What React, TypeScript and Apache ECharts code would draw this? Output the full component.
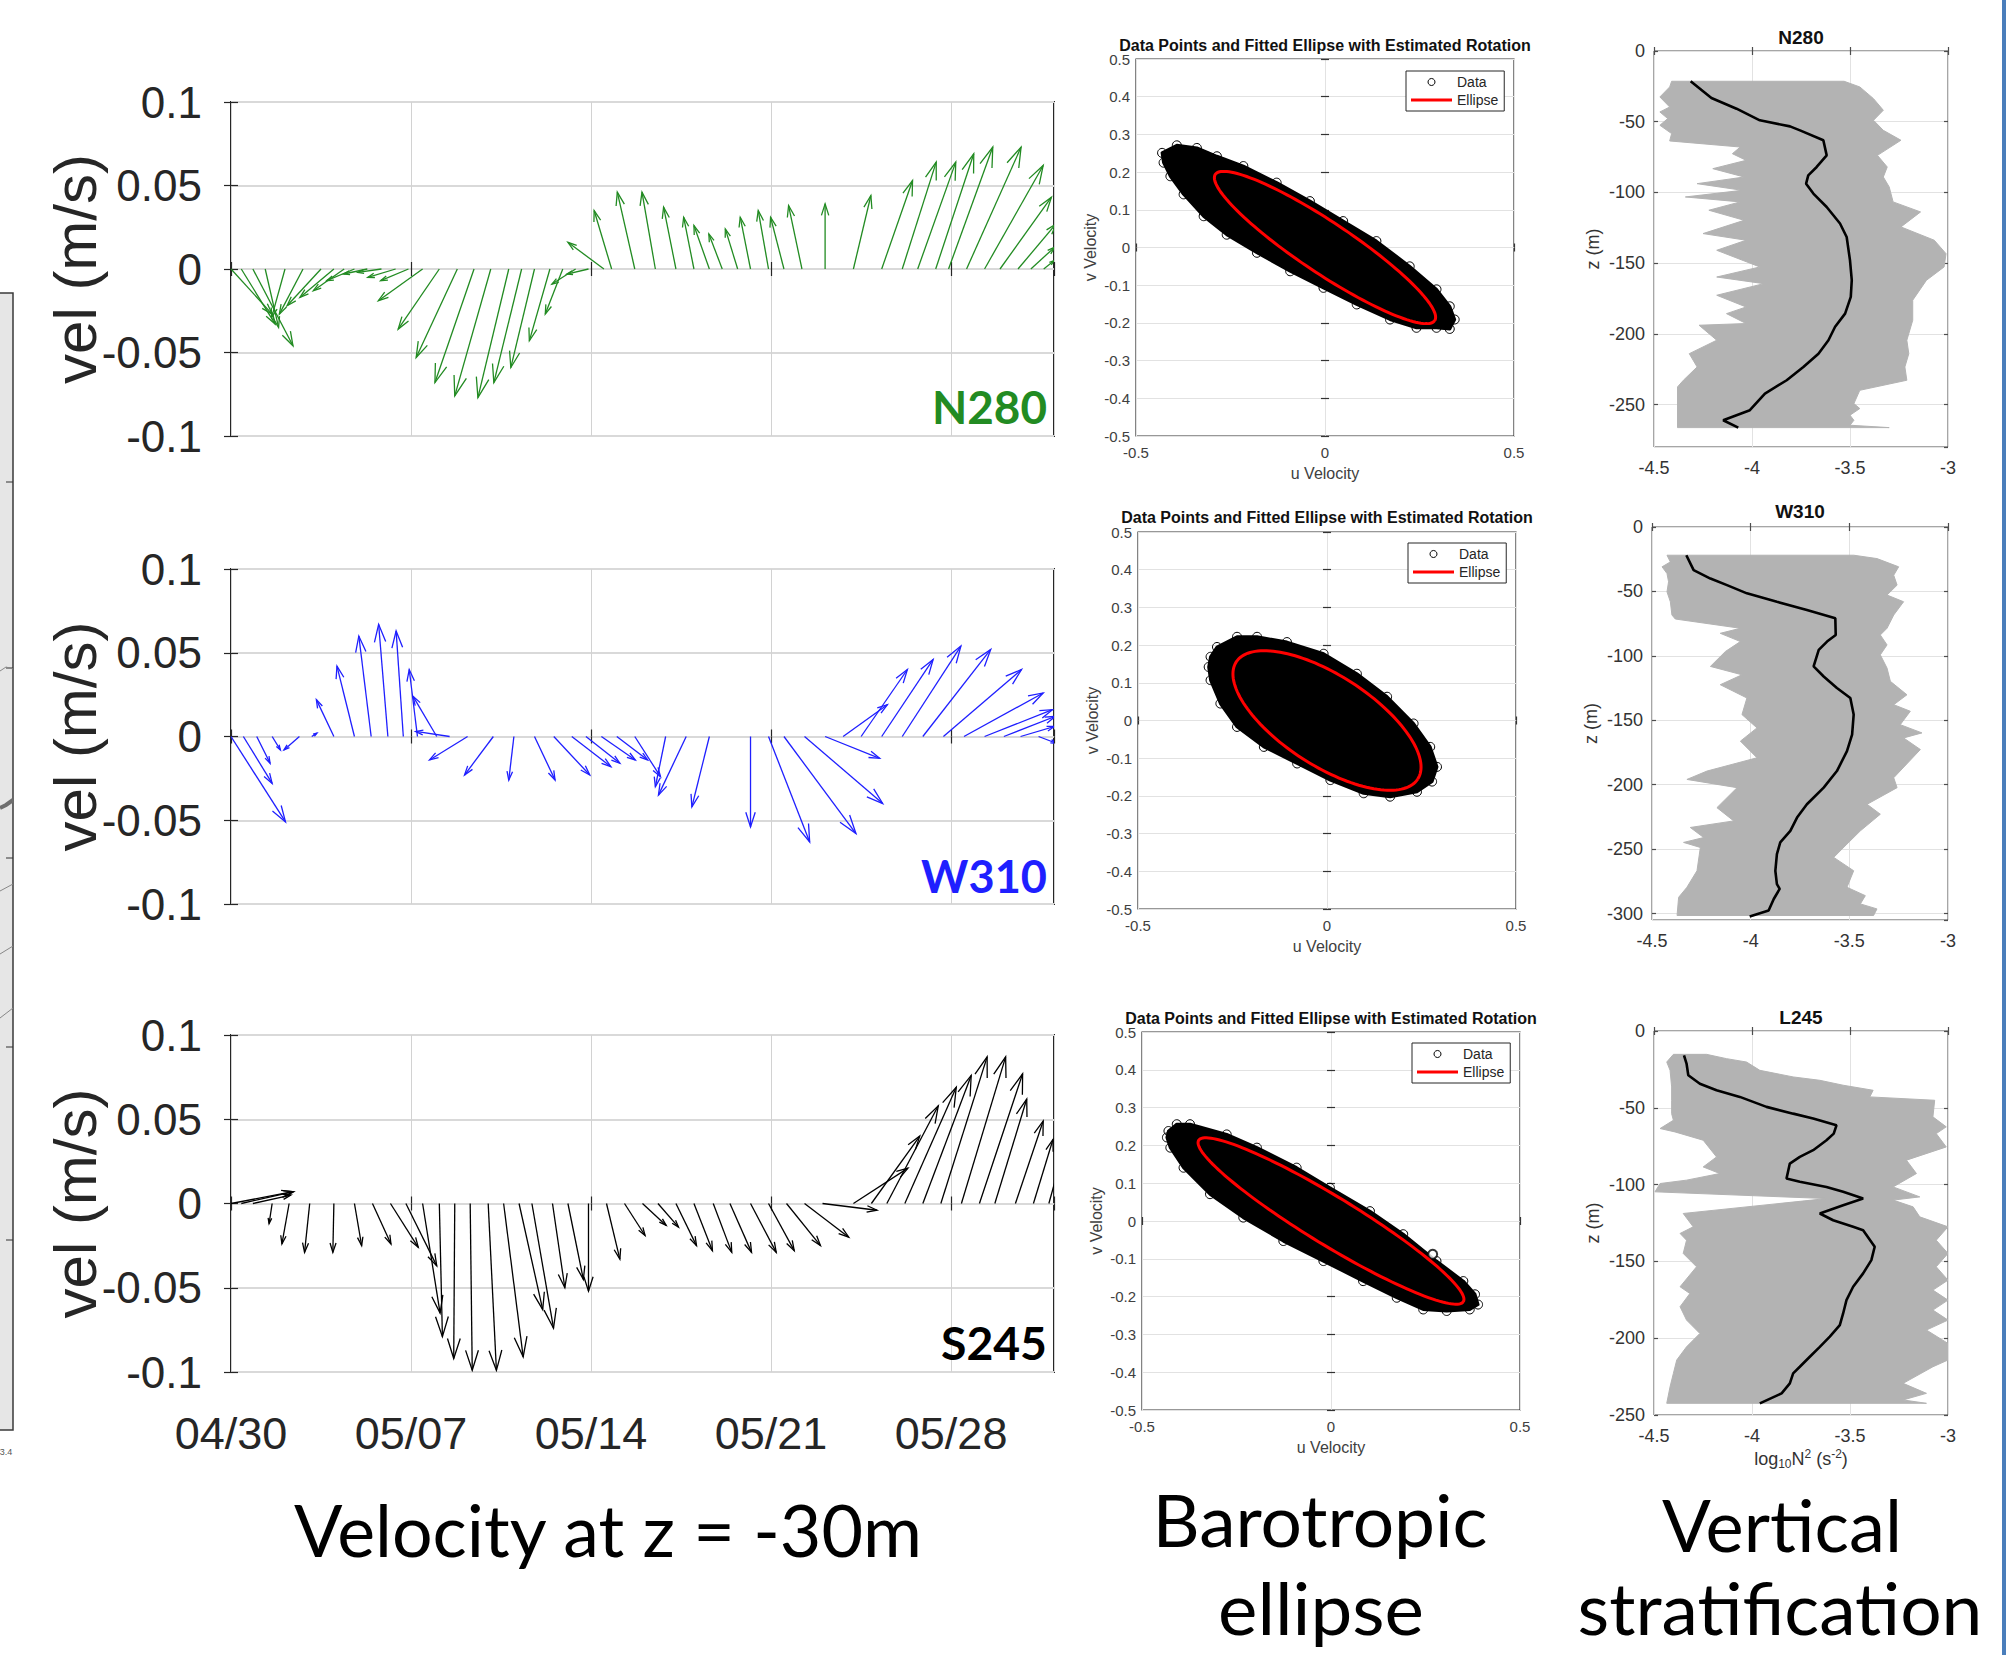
import React, { useEffect, useRef } from 'react';
import * as echarts from 'echarts';

// ---------------- Quiver (stick) data at z = -30 m ----------------
// day = days after 04/30, u / v = velocity components (m/s)
const dateTickLabels = ['04/30', '05/07', '05/14', '05/21', '05/28'];
const quiverStations = ['N280', 'W310', 'S245'];

const n280Day = [0, 0.4, 0.85, 1.33, 2.1, 2.8, 3.5, 4.0, 4.4, 4.8, 5.3, 5.85, 6.4, 6.9, 7.45, 8.1, 8.8, 9.45, 10.1, 10.8, 11.3, 11.8, 12.4, 12.9, 13.4, 13.9, 14.5, 14.8, 15.7, 16.5, 17.3, 18.0, 18.6, 19.1, 19.7, 20.2, 20.9, 21.5, 22.2, 23.1, 24.2, 25.3, 26.1, 26.7, 27.4, 27.9, 28.6, 29.3, 29.9, 30.6, 31.1, 31.6];
const n280U = [0.040, 0.033, 0.039, 0.013, -0.013, -0.023, -0.033, -0.033, -0.030, -0.027, -0.023, -0.023, -0.027, -0.027, -0.043, -0.040, -0.040, -0.038, -0.035, -0.030, -0.027, -0.023, -0.020, -0.017, -0.023, -0.021, -0.035, -0.017, -0.017, -0.013, -0.012, -0.010, -0.015, -0.013, -0.012, -0.010, -0.010, -0.013, -0.013, 0.0, 0.017, 0.030, 0.033, 0.037, 0.037, 0.043, 0.053, 0.057, 0.050, 0.037, 0.023, 0.010];
const n280V = [-0.027, -0.033, -0.046, -0.035, -0.029, -0.027, -0.022, -0.017, -0.013, -0.007, -0.003, -0.002, -0.005, -0.007, -0.019, -0.036, -0.053, -0.068, -0.076, -0.077, -0.068, -0.059, -0.043, -0.027, -0.009, -0.003, 0.016, 0.035, 0.046, 0.046, 0.037, 0.031, 0.026, 0.021, 0.024, 0.031, 0.035, 0.031, 0.038, 0.039, 0.044, 0.053, 0.064, 0.064, 0.069, 0.073, 0.073, 0.062, 0.043, 0.027, 0.013, 0.005];

const w310Day = [0, 0.48, 1.0, 1.6, 2.66, 3.14, 4.0, 4.8, 5.45, 6.1, 6.7, 7.25, 8.0, 8.5, 9.2, 10.2, 11.0, 11.8, 12.55, 13.25, 13.8, 14.4, 15.0, 15.7, 16.9, 17.7, 18.6, 20.2, 20.9, 21.5, 22.3, 23.1, 23.8, 24.5, 25.3, 26.1, 26.9, 27.7, 28.5, 29.3, 30.05, 30.7, 31.4];
const w310U = [0.053, 0.028, 0.013, 0.008, -0.015, 0.005, -0.017, -0.017, -0.012, -0.009, -0.007, -0.008, -0.023, -0.033, -0.037, -0.028, -0.005, 0.020, 0.035, 0.038, 0.033, 0.033, 0.030, 0.025, -0.010, -0.027, -0.017, 0.0, 0.040, 0.070, 0.076, 0.053, 0.043, 0.045, 0.050, 0.057, 0.066, 0.076, 0.077, 0.066, 0.050, 0.033, 0.017];
const w310V = [-0.051, -0.028, -0.016, -0.008, -0.008, 0.002, 0.022, 0.042, 0.060, 0.067, 0.063, 0.040, 0.024, 0.003, -0.014, -0.023, -0.026, -0.026, -0.023, -0.018, -0.016, -0.014, -0.014, -0.024, -0.030, -0.035, -0.042, -0.054, -0.063, -0.058, -0.040, -0.013, 0.019, 0.040, 0.046, 0.054, 0.052, 0.040, 0.026, 0.016, 0.012, 0.006, -0.004];

const s245Day = [0, 0.4, 0.85, 1.6, 2.26, 3.06, 4.0, 4.8, 5.5, 6.2, 6.8, 7.45, 8.1, 8.7, 9.3, 10.0, 10.6, 11.2, 11.7, 12.5, 13.1, 13.9, 14.6, 15.3, 16.0, 16.6, 17.3, 18.0, 18.75, 19.4, 20.2, 20.9, 21.6, 22.3, 23.0, 24.2, 24.9, 25.5, 26.2, 26.9, 27.6, 28.4, 29.1, 29.7, 30.5, 31.2, 31.8];
const s245U = [0.060, 0.051, 0.037, -0.003, -0.007, -0.005, -0.001, 0.007, 0.018, 0.027, 0.030, 0.017, 0.003, -0.001, 0.002, 0.008, 0.019, 0.023, 0.021, 0.012, 0.015, 0.0, 0.013, 0.020, 0.023, 0.020, 0.020, 0.018, 0.018, 0.021, 0.025, 0.025, 0.033, 0.043, 0.053, 0.053, 0.047, 0.050, 0.050, 0.047, 0.045, 0.043, 0.042, 0.031, 0.027, 0.019, 0.010];
const s245V = [0.007, 0.007, 0.005, -0.012, -0.024, -0.029, -0.029, -0.025, -0.024, -0.026, -0.037, -0.065, -0.079, -0.092, -0.099, -0.099, -0.091, -0.063, -0.074, -0.050, -0.045, -0.052, -0.033, -0.019, -0.013, -0.014, -0.025, -0.028, -0.029, -0.029, -0.029, -0.028, -0.025, -0.020, -0.004, 0.021, 0.040, 0.058, 0.069, 0.076, 0.087, 0.087, 0.077, 0.062, 0.049, 0.038, 0.022];

// ---------------- Barotropic ellipse data ----------------
// outline of the dense cloud of (u, v) data points
const n280CloudU = [-0.431, -0.392, -0.339, -0.286, -0.216, -0.128, -0.040, 0.048, 0.136, 0.224, 0.295, 0.330, 0.343, 0.330, 0.295, 0.242, 0.172, 0.084, -0.004, -0.092, -0.180, -0.260, -0.321, -0.374, -0.409, -0.427];
const n280CloudV = [0.251, 0.271, 0.264, 0.242, 0.216, 0.172, 0.123, 0.070, 0.017, -0.050, -0.111, -0.156, -0.191, -0.216, -0.213, -0.213, -0.191, -0.151, -0.107, -0.063, -0.014, 0.034, 0.083, 0.141, 0.189, 0.225];
const w310CloudU = [-0.308, -0.291, -0.238, -0.185, -0.106, -0.009, 0.079, 0.159, 0.229, 0.273, 0.291, 0.278, 0.238, 0.167, 0.097, 0.009, -0.079, -0.167, -0.238, -0.282, -0.308, -0.313];
const w310CloudV = [0.169, 0.195, 0.222, 0.222, 0.208, 0.177, 0.124, 0.063, -0.008, -0.070, -0.123, -0.162, -0.189, -0.202, -0.193, -0.158, -0.114, -0.070, -0.017, 0.045, 0.107, 0.142];
const s245CloudU = [-0.430, -0.408, -0.373, -0.276, -0.196, -0.091, -0.003, 0.103, 0.191, 0.279, 0.350, 0.381, 0.389, 0.367, 0.306, 0.244, 0.174, 0.085, -0.020, -0.126, -0.232, -0.320, -0.390, -0.425, -0.434];
const s245CloudV = [0.238, 0.256, 0.256, 0.229, 0.194, 0.141, 0.088, 0.026, -0.035, -0.106, -0.159, -0.194, -0.221, -0.234, -0.238, -0.234, -0.203, -0.159, -0.106, -0.053, 0.009, 0.071, 0.141, 0.194, 0.221];
const s245OutlierU = [0.269];
const s245OutlierV = [-0.088];
// fitted ellipses: [centre u, centre v, semi-major, semi-minor, rotation (deg)]
const n280Ellipse = [0, 0, 0.349, 0.068, -33.75];
const w310Ellipse = [0, 0, 0.286, 0.120, -32.9];
const s245Ellipse = [0, 0, 0.410, 0.064, -31.35];

// ---------------- Vertical stratification ----------------
const stratStations = ['N280', 'W310', 'L245'];
const n280MeanN2 = [-4.313, -4.207, -4.079, -3.96, -3.806, -3.755, -3.636, -3.619, -3.670, -3.713, -3.724, -3.687, -3.619, -3.551, -3.517, -3.50, -3.491, -3.496, -3.525, -3.576, -3.61, -3.661, -3.738, -3.823, -3.934, -4.011, -4.147, -4.07];
const n280MeanZ = [-21.4, -33.2, -40.8, -49, -53.3, -56.1, -63.1, -73.8, -82, -87.9, -93.8, -100.8, -110.3, -122, -131.5, -148, -162, -173.9, -185.7, -195, -204.5, -214, -223.4, -232.8, -242.2, -254, -261.1, -266.3];
const n280EnvN2 = [-4.41, -4.42, -4.47, -4.42, -4.47, -4.43, -4.47, -4.41, -4.42, -4.06, -4.10, -4.03, -4.20, -4.04, -4.28, -4.05, -4.34, -4.06, -4.22, -4.04, -4.25, -4.03, -4.18, -3.96, -4.18, -3.94, -4.18, -4.03, -4.13, -4.03, -4.27, -4.18, -4.32, -4.28, -4.35, -4.38, -4.38,
  -3.30, -3.50, -3.48, -3.50, -3.45, -3.48, -3.45, -3.21, -3.22, -3.20, -3.21, -3.18, -3.18, -3.11, -3.02, -3.01, -3.07, -3.24, -3.14, -3.28, -3.30, -3.33, -3.31, -3.36, -3.24, -3.33, -3.38, -3.33, -3.38, -3.45, -3.53];
const n280EnvZ = [-21.4, -25.4, -32.5, -39.6, -43.1, -47.8, -52.5, -58.4, -63.6, -67.9, -72.6, -77.3, -83.2, -89.1, -93.8, -98.5, -103.2, -106.7, -112.6, -119.7, -129.1, -133.8, -140.9, -152.7, -159.8, -164.5, -172.7, -181, -185.7, -192.7, -193.9, -204.5, -214, -223.4, -232.8, -237.5, -266.3,
  -266.3, -264.6, -261.1, -257.5, -252.8, -249.3, -239.9, -232.8, -223.4, -214, -204.5, -190.4, -176.2, -162.1, -152.7, -143.3, -133.8, -124.4, -113.8, -106.7, -96.1, -89.1, -82, -73.8, -63.1, -56.1, -49, -41.9, -33.7, -25.4, -21.4];

const w310MeanN2 = [-4.326, -4.289, -4.204, -4.12, -4.019, -3.867, -3.715, -3.571, -3.569, -3.613, -3.655, -3.681, -3.63, -3.563, -3.495, -3.478, -3.486, -3.512, -3.563, -3.63, -3.715, -3.765, -3.799, -3.85, -3.867, -3.875, -3.867, -3.853, -3.883, -3.909, -4.005];
const w310MeanZ = [-21.9, -33.5, -40, -45.1, -51.5, -58, -64.4, -70.9, -83.8, -88.9, -95.4, -108.2, -116, -125, -132.7, -145.6, -161.1, -174, -189.4, -202.3, -215.2, -225.5, -235.8, -244.8, -253.9, -266.8, -277.1, -280.9, -288.7, -297.7, -302.3];
const w310EnvN2 = [-4.424, -4.407, -4.449, -4.424, -4.416, -4.424, -4.407, -4.399, -4.382, -4.052, -4.154, -4.052, -4.128, -4.204, -4.044, -4.154, -4.019, -4.044, -3.968, -4.052, -3.968, -4.221, -4.323, -4.069, -4.171, -4.086, -4.306, -4.238, -4.34, -4.255, -4.272, -4.323, -4.365, -4.373,
  -3.377, -3.36, -3.444, -3.419, -3.512, -3.478, -3.579, -3.512, -3.444, -3.343, -3.41, -3.258, -3.275, -3.14, -3.225, -3.132, -3.242, -3.191, -3.275, -3.208, -3.292, -3.309, -3.343, -3.309, -3.343, -3.309, -3.275, -3.225, -3.309, -3.258, -3.275, -3.25, -3.36, -3.478];
const w310EnvZ = [-21.9, -27.1, -30.9, -36.1, -42.5, -50.3, -58, -68.3, -71.4, -78.6, -82.5, -88.9, -96.6, -108.2, -114.7, -122.4, -132.7, -145.6, -155.9, -166.2, -179.1, -189.4, -195.9, -202.3, -217.8, -228.1, -233.2, -241, -244.8, -248.7, -266.8, -279.6, -287.4, -301.5,
  -301.5, -296.4, -292.5, -286.1, -279.6, -266.8, -256.4, -246.1, -235.8, -222.9, -215.2, -202.3, -194.6, -172.7, -163.7, -159.8, -153.4, -143, -137.9, -130.2, -119.8, -109.5, -99.2, -91.5, -83.8, -78.6, -68.3, -58, -52.8, -45.1, -37.4, -30.9, -24.5, -21.9];

const l245MeanN2 = [-4.347, -4.334, -4.325, -4.266, -4.181, -4.062, -3.926, -3.79, -3.688, -3.569, -3.583, -3.62, -3.688, -3.756, -3.807, -3.824, -3.756, -3.62, -3.535, -3.433, -3.535, -3.654, -3.586, -3.484, -3.433, -3.374, -3.391, -3.433, -3.484, -3.518, -3.535, -3.552, -3.603, -3.654, -3.705, -3.756, -3.79, -3.807, -3.849, -3.96];
const l245MeanZ = [-15.8, -21.2, -28.8, -34.3, -38.6, -42.9, -49.4, -53.8, -57, -61.4, -66.8, -71.1, -77.6, -82, -86.3, -96.1, -98.2, -101.5, -104.7, -109.1, -113.4, -118.8, -123.2, -127.5, -129.7, -140.5, -149.2, -157.8, -166.5, -175.2, -183.9, -191.5, -199, -205.6, -212.1, -218.6, -222.9, -229.4, -235.9, -242.4];
const l245EnvN2 = [-4.401, -4.435, -4.418, -4.41, -4.41, -4.41, -4.401, -4.469, -4.393, -4.249, -4.181, -4.249, -4.164, -4.334, -4.469, -4.495, -3.62, -4.351, -4.3, -4.367, -4.334, -4.351, -4.283, -4.367, -4.317, -4.367, -4.334, -4.266, -4.334, -4.384, -4.401, -4.418, -4.435,
  -3.11, -3.229, -3.11, -3.229, -3.077, -3.0, -3.0, -3.11, -3.0, -3.077, -3.0, -3.077, -3.0, -3.06, -3.0, -3.06, -3.0, -3.144, -3.178, -3.28, -3.144, -3.28, -3.161, -3.212, -3.009, -3.06, -3.009, -3.077, -3.068, -3.399, -3.382, -3.535, -3.654, -3.79, -3.96, -4.028, -4.13, -4.232];
const l245EnvZ = [-15.2, -20.2, -25.6, -36.4, -45.1, -53.8, -58.1, -63.5, -65.7, -71.1, -82, -88.5, -92.8, -97.1, -99.3, -104.7, -109.1, -118.8, -127.5, -131.8, -136.2, -144.8, -153.5, -166.5, -170.9, -179.5, -188.2, -196.9, -205.6, -214.2, -222.9, -231.6, -242.4,
  -242.4, -240.2, -235.9, -229.4, -218.6, -214.2, -203.4, -194.7, -188.2, -181.7, -175.2, -168.7, -162.2, -153.5, -144.8, -136.2, -127.5, -121, -114.5, -110.1, -108, -101.5, -92.8, -84.1, -75.5, -66.8, -62.4, -55.9, -45.1, -42.9, -38.6, -35.3, -32.1, -29.9, -25.6, -20.2, -18, -15.2];

// ---------------- presentation constants ----------------
const U_TO_DAYS = 40; // horizontal stick scale: days per (m/s)
const FONT = "'Liberation Sans', Arial, Helvetica, sans-serif";
const CAL = "Lato, 'Open Sans', sans-serif";
const quiverColors = ['#228b22', '#1f1fff', '#000000'];

const zip2 = (a: number[], b: number[]) => a.map((v, i) => [v, b[i]]);
const zip3 = (a: number[], b: number[], c: number[]) => a.map((v, i) => [v, b[i], c[i]]);

function quiverItem(color: string) {
  return (params: any, api: any) => {
    const t = api.value(0), u = api.value(1), v = api.value(2);
    const p0 = api.coord([t, 0]);
    const p1 = api.coord([t + U_TO_DAYS * u, v]);
    const dx = p1[0] - p0[0], dy = p1[1] - p0[1];
    const len = Math.sqrt(dx * dx + dy * dy);
    const style = { stroke: color, lineWidth: 1.3, fill: 'none' };
    const children: any[] = [{ type: 'line', shape: { x1: p0[0], y1: p0[1], x2: p1[0], y2: p1[1] }, style }];
    if (len > 2) {
      const h = Math.min(0.13 * len + 3, 20);
      const w = h * 0.32;
      const ex = dx / len, ey = dy / len;
      const bx = p1[0] - ex * h, by = p1[1] - ey * h;
      children.push({ type: 'polyline', shape: { points: [[bx - ey * w, by + ex * w], [p1[0], p1[1]], [bx + ey * w, by - ex * w]] }, style });
    }
    return { type: 'group', children };
  };
}

function polygonItem(xs: number[], ys: number[], fill: string, stroke: string, lw: number, rings: boolean) {
  return (_p: any, api: any) => {
    const pts = xs.map((x, i) => api.coord([x, ys[i]]));
    const children: any[] = [{ type: 'polygon', shape: { points: pts }, style: { fill, stroke, lineWidth: lw, lineJoin: 'round' } }];
    if (rings) {
      pts.forEach((q: number[]) => children.push({ type: 'circle', shape: { cx: q[0], cy: q[1], r: 4.5 }, style: { fill: 'none', stroke: '#000', lineWidth: 1 } }));
    }
    return { type: 'group', children };
  };
}

function ellipseItem(par: number[]) {
  return (_p: any, api: any) => {
    const [cu, cv, a, b, deg] = par;
    const r = (deg * Math.PI) / 180;
    const pts: number[][] = [];
    for (let k = 0; k <= 144; k++) {
      const th = (2 * Math.PI * k) / 144;
      const x = a * Math.cos(th), y = b * Math.sin(th);
      pts.push(api.coord([cu + x * Math.cos(r) - y * Math.sin(r), cv + x * Math.sin(r) + y * Math.cos(r)]));
    }
    return { type: 'polyline', shape: { points: pts }, style: { stroke: '#ff0000', lineWidth: 3, fill: 'none' } };
  };
}

function measure(text: string, font: string) {
  const c = document.createElement('canvas').getContext('2d') as CanvasRenderingContext2D;
  c.font = font;
  return c.measureText(text).width || 1;
}

function fittedText(text: string, x: number, cy: number, targetW: number, size: number, weight: string, color: string, align: string) {
  const w = measure(text, `${weight} ${size}px Lato`);
  return {
    type: 'text', x, y: cy, scaleX: targetW / w, silent: true, z: 50,
    style: { text, fontFamily: CAL, fontSize: size, fontWeight: weight, fill: color, align, textAlign: align, verticalAlign: 'middle', textVerticalAlign: 'middle' },
  };
}

function buildOption() {
  const grid: any[] = [];
  const xAxis: any[] = [];
  const yAxis: any[] = [];
  const series: any[] = [];
  const title: any[] = [];
  const legend: any[] = [];

  const addGrid = (r: any, color: string, width: number) => {
    grid.push({ left: r[0], top: r[1], width: r[2], height: r[3], show: true, borderColor: color, borderWidth: width, backgroundColor: 'transparent', outerBoundsMode: 'none' });
    return grid.length - 1;
  };
  const addAxes = (g: number, xa: any, ya: any, tickColor: string, tickLen: number) => {
    const tick = { show: true, inside: true, length: tickLen, lineStyle: { color: tickColor, width: 1.2 } };
    xAxis.push({ type: 'value', gridIndex: g, position: 'bottom', nameMoveOverlap: false, axisLine: { show: false }, axisTick: tick, ...xa });
    xAxis.push({ type: 'value', gridIndex: g, position: 'top', min: xa.min, max: xa.max, interval: xa.interval, axisLine: { show: false }, axisTick: tick, axisLabel: { show: false }, splitLine: { show: false } });
    yAxis.push({ type: 'value', gridIndex: g, position: 'left', nameMoveOverlap: false, axisLine: { show: false }, axisTick: tick, ...ya });
    yAxis.push({ type: 'value', gridIndex: g, position: 'right', min: ya.min, max: ya.max, interval: ya.interval, minInterval: ya.minInterval, maxInterval: ya.maxInterval, axisLine: { show: false }, axisTick: tick, axisLabel: { show: false }, splitLine: { show: false } });
    return 2 * g;
  };

  // ---- quiver panels ----
  const qRects = [[231, 102, 823, 334], [231, 569, 823, 335], [231, 1035, 823, 337]];
  const qData = [zip3(n280Day, n280U, n280V), zip3(w310Day, w310U, w310V), zip3(s245Day, s245U, s245V)];
  qRects.forEach((r, i) => {
    const g = addGrid(r, '#262626', 2);
    const ai = addAxes(g, {
      min: 0, max: 32, interval: 7,
      axisLabel: {
        show: i === 2, margin: 39, fontFamily: FONT, fontSize: 45, color: '#262626',
        formatter: (v: number) => { const k = Math.round(v / 7); return Math.abs(v - 7 * k) < 1e-6 ? (dateTickLabels[k] ?? '') : ''; },
      },
      splitLine: { show: true, lineStyle: { color: '#d2d2d2', width: 1 } },
    }, {
      min: -0.1, max: 0.1, interval: 0.05,
      axisLabel: { margin: 29, fontFamily: FONT, fontSize: 44, color: '#262626' },
      splitLine: { show: true, lineStyle: { color: '#d9d9d9', width: 2 } },
      name: 'vel (m/s)', nameLocation: 'middle', nameRotate: 90, nameGap: 126,
      nameTextStyle: { fontFamily: FONT, fontSize: 60, color: '#262626' },
    }, '#262626', 7);
    series.push({
      name: quiverStations[i] + ' velocity', type: 'custom', xAxisIndex: ai, yAxisIndex: ai, clip: true, silent: true, z: 3,
      encode: { x: 0, y: 2 }, data: qData[i], renderItem: quiverItem(quiverColors[i]),
    });
  });

  // ---- ellipse panels ----
  const eRects = [[1136, 59, 378, 377], [1138, 532, 378, 377], [1142, 1032, 378, 378]];
  const clouds = [[n280CloudU, n280CloudV], [w310CloudU, w310CloudV], [s245CloudU, s245CloudV]];
  const ells = [n280Ellipse, w310Ellipse, s245Ellipse];
  const eTitleTop = [37, 509, 1010];
  const legendPos = [[1406, 71], [1408, 543], [1412, 1043]];
  eRects.forEach((r, i) => {
    const g = addGrid(r, '#333333', 1.2);
    const ai = addAxes(g, {
      min: -0.5, max: 0.5, interval: 0.5,
      axisLabel: { margin: 9, fontFamily: FONT, fontSize: 15, color: '#404040' },
      splitLine: { show: true, lineStyle: { color: '#e2e2e2', width: 1 } },
      name: 'u Velocity', nameLocation: 'middle', nameGap: 29,
      nameTextStyle: { fontFamily: FONT, fontSize: 16, color: '#404040' },
    }, {
      min: -0.5, max: 0.5, interval: 0.1,
      axisLabel: { margin: 6, fontFamily: FONT, fontSize: 15, color: '#404040' },
      splitLine: { show: true, lineStyle: { color: '#e2e2e2', width: 1 } },
      name: 'v Velocity', nameLocation: 'middle', nameRotate: 90, nameGap: 38,
      nameTextStyle: { fontFamily: FONT, fontSize: 16, color: '#404040' },
    }, '#333333', 4);
    const [cu, cv] = clouds[i];
    series.push({
      name: 'Data', type: 'custom', xAxisIndex: ai, yAxisIndex: ai, silent: true, z: 2, clip: true,
      itemStyle: { color: '#000' }, data: [[cu[0], cv[0]]], renderItem: polygonItem(cu, cv, '#000', '#000', 3, true),
    });
    if (i === 2) {
      series.push({
        name: 'Data', type: 'scatter', xAxisIndex: ai, yAxisIndex: ai, silent: true, z: 2,
        symbol: 'emptyCircle', symbolSize: 9, itemStyle: { color: '#000', borderColor: '#000', borderWidth: 1 },
        data: zip2(s245OutlierU, s245OutlierV),
      });
    }
    series.push({
      name: 'Ellipse', type: 'custom', xAxisIndex: ai, yAxisIndex: ai, silent: true, z: 4, clip: true,
      itemStyle: { color: '#ff0000' }, data: [[ells[i][0], ells[i][1]]], renderItem: ellipseItem(ells[i]),
    });
    title.push({
      text: 'Data Points and Fitted Ellipse with Estimated Rotation', left: r[0] + r[2] / 2, top: eTitleTop[i], textAlign: 'center', padding: 0,
      textStyle: { fontFamily: FONT, fontSize: 16, fontWeight: 'bold', color: '#111' },
    });
    legend.push({
      show: true, orient: 'vertical', left: legendPos[i][0], top: legendPos[i][1], selectedMode: false,
      itemWidth: 41, itemHeight: 7, itemGap: 4, padding: [4, 6, 4, 5],
      borderColor: '#262626', borderWidth: 1, backgroundColor: '#ffffff', borderRadius: 0,
      textStyle: { fontFamily: FONT, fontSize: 14, color: '#262626' },
      data: [
        { name: 'Data', icon: 'circle', itemStyle: { color: '#ffffff', borderColor: '#000000', borderWidth: 1 } },
        { name: 'Ellipse', icon: 'path://M0,0L41,0L41,3L0,3Z', itemStyle: { color: '#ff0000', borderWidth: 0 } },
      ],
    });
  });

  // ---- stratification panels ----
  const sRects = [[1654, 51, 294, 396], [1652, 527, 296, 393], [1654, 1031, 294, 384]];
  const sMin = [-280, -305, -250];
  const envs = [[n280EnvN2, n280EnvZ], [w310EnvN2, w310EnvZ], [l245EnvN2, l245EnvZ]];
  const means = [[n280MeanN2, n280MeanZ], [w310MeanN2, w310MeanZ], [l245MeanN2, l245MeanZ]];
  const sTitleTop = [28, 502, 1008];
  sRects.forEach((r, i) => {
    const g = addGrid(r, '#4d4d4d', 1);
    const xa: any = {
      min: -4.5, max: -3, interval: 0.5,
      axisLabel: { margin: 12, fontFamily: FONT, fontSize: 18, color: '#333333' },
      splitLine: { show: true, lineStyle: { color: '#e2e2e2', width: 1 } },
    };
    if (i === 2) {
      xa.name = '{n|log}{s|10}{n|N}{p|2}{n| (s}{p|-2}{n|)}';
      xa.nameLocation = 'middle';
      xa.nameGap = 33;
      xa.nameTextStyle = {
        fontFamily: FONT, fontSize: 18, color: '#333333',
        rich: {
          n: { fontFamily: FONT, fontSize: 18, color: '#333333' },
          s: { fontFamily: FONT, fontSize: 12, color: '#333333', padding: [10, 0, 0, 0] },
          p: { fontFamily: FONT, fontSize: 12, color: '#333333', padding: [0, 0, 10, 0] },
        },
      };
    }
    const ai = addAxes(g, xa, {
      min: sMin[i], max: 0, minInterval: 50, maxInterval: 50,
      axisLabel: { margin: 9, fontFamily: FONT, fontSize: 18, color: '#333333', showMinLabel: i === 2 },
      splitLine: { show: true, lineStyle: { color: '#e2e2e2', width: 1 } },
      name: 'z (m)', nameLocation: 'middle', nameRotate: 90, nameGap: 52,
      nameTextStyle: { fontFamily: FONT, fontSize: 18, color: '#333333' },
    }, '#4d4d4d', 4);
    const [ex, ez] = envs[i];
    series.push({
      name: stratStations[i] + ' profiles', type: 'custom', xAxisIndex: ai, yAxisIndex: ai, silent: true, z: 2, clip: true,
      data: [[ex[0], ez[0]]], renderItem: polygonItem(ex, ez, '#b3b3b3', '#b3b3b3', 1, false),
    });
    const [mx, mz] = means[i];
    series.push({
      name: stratStations[i] + ' mean', type: 'line', xAxisIndex: ai, yAxisIndex: ai, silent: true, z: 4,
      symbol: 'none', lineStyle: { color: '#000', width: 2.6 }, data: zip2(mx, mz),
    });
    title.push({
      text: stratStations[i], left: r[0] + r[2] / 2, top: sTitleTop[i], textAlign: 'center', padding: 0,
      textStyle: { fontFamily: FONT, fontSize: 19, fontWeight: 'bold', color: '#111' },
    });
  });

  // ---- decorations & annotations ----
  const graphic: any[] = [
    // clipped neighbouring map on the far left
    { type: 'rect', silent: true, shape: { x: -5, y: 293, width: 18, height: 1137 }, style: { fill: '#e6e6e6', stroke: '#3a3a3a', lineWidth: 1.5 } },
    ...[482, 668, 858, 1047, 1240].map((y) => ({ type: 'line', silent: true, shape: { x1: 6, y1: y, x2: 13, y2: y }, style: { stroke: '#333', lineWidth: 1 } })),
    { type: 'polyline', silent: true, shape: { points: [[0, 671], [6, 667], [13, 669]] }, style: { stroke: '#888', lineWidth: 1, fill: 'none' } },
    { type: 'polyline', silent: true, shape: { points: [[0, 808], [6, 805], [13, 800]] }, style: { stroke: '#6e6e6e', lineWidth: 4, fill: 'none' } },
    { type: 'line', silent: true, shape: { x1: 0, y1: 891, x2: 13, y2: 884 }, style: { stroke: '#888', lineWidth: 1 } },
    { type: 'line', silent: true, shape: { x1: 0, y1: 954, x2: 13, y2: 946 }, style: { stroke: '#888', lineWidth: 1 } },
    { type: 'line', silent: true, shape: { x1: 0, y1: 1018, x2: 13, y2: 1008 }, style: { stroke: '#888', lineWidth: 1 } },
    { type: 'text', silent: true, x: 6, y: 1452, style: { text: '3.4', fontFamily: FONT, fontSize: 9, fill: '#555', align: 'center', textAlign: 'center', verticalAlign: 'middle', textVerticalAlign: 'middle' } },
    // slide border on the right
    { type: 'rect', silent: true, shape: { x: 2002, y: 0, width: 4, height: 1655 }, style: { fill: '#4a7ebb' } },
    // station labels inside the quiver panels
    fittedText('N280', 1047, 406, 115, 46, 'bold', quiverColors[0], 'right'),
    fittedText('W310', 1047, 875, 126, 46, 'bold', quiverColors[1], 'right'),
    fittedText('S245', 1047, 1342, 106, 46, 'bold', quiverColors[2], 'right'),
    // column captions
    fittedText('Velocity at z = -30m', 608, 1529, 630, 72, 'normal', '#000', 'center'),
    fittedText('Barotropic', 1320, 1519, 335, 72, 'normal', '#000', 'center'),
    fittedText('ellipse', 1321, 1607, 206, 72, 'normal', '#000', 'center'),
    fittedText('Vertical', 1782, 1524, 240, 72, 'normal', '#000', 'center'),
    fittedText('stratification', 1780, 1607, 405, 72, 'normal', '#000', 'center'),
  ];

  return {
    animation: false,
    backgroundColor: '#ffffff',
    title, legend, grid, xAxis, yAxis, series, graphic,
  };
}

export default function App() {
  const ref = useRef<HTMLDivElement>(null);
  useEffect(() => {
    if (!ref.current) return;
    const chart = echarts.init(ref.current, undefined, { renderer: 'svg' });
    chart.setOption(buildOption() as any);
    return () => chart.dispose();
  }, []);
  return (
    <div style={{ position: 'absolute', left: 0, top: 0, width: 2015, height: 1655, overflow: 'hidden', background: '#fff' }}>
      <div ref={ref} style={{ width: 2015, height: 1655 }} />
    </div>
  );
}
